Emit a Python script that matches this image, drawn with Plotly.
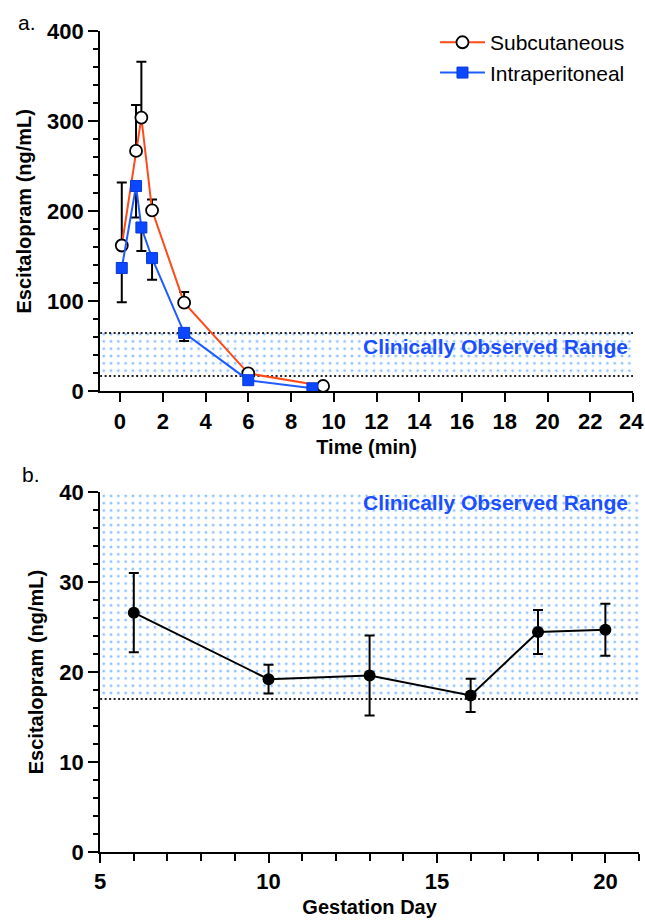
import plotly.graph_objects as go

# ---------- data ----------
time_sc = [0.083, 0.75, 1, 1.5, 3, 6, 9.5]
sc_mean = [162, 267, 304, 201, 98.5, 20, 6]
sc_err_up = [70, 51, 62, 12, 12, 0, 0]

time_ip = [0.083, 0.75, 1, 1.5, 3, 6, 9]
ip_mean = [137, 228, 182, 148, 65, 12.5, 3.5]
ip_err_down = [38, 35, 26, 24, 9, 0, 0]

gest_day = [6, 10, 13, 16, 18, 20]
gest_conc = [26.6, 19.2, 19.6, 17.4, 24.45, 24.7]
gest_err = [4.4, 1.6, 4.45, 1.85, 2.45, 2.9]

clin_low, clin_high = 17, 65
xa_range = [-0.93, 24]
xa_ticks = list(range(0, 25, 2))
xb_range = [5, 21]

FONT = "Liberation Sans, Arial, sans-serif"
DOT_BLUE = "#1f86ff"
TXT_BLUE = "#1a4fff"

W, H = 645, 920

def px(xp):
    return xp / W

def py(yp):
    # vertical calibration of the photographed page
    return 1 - ((yp - 12.9) / 0.972) / H

fig = go.Figure()

def band(xr, xaxis, yaxis):
    fig.add_trace(go.Scatter(
        x=[xr[0], xr[1], xr[1], xr[0], xr[0]],
        y=[clin_low, clin_low, clin_high, clin_high, clin_low],
        fill="toself", mode="none", fillcolor="rgba(0,0,0,0)",
        fillpattern=dict(shape=".", size=7.3, solidity=0.12,
                         fgcolor=DOT_BLUE, bgcolor="rgba(0,0,0,0)", fillmode="overlay"),
        hoverinfo="skip", showlegend=False, xaxis=xaxis, yaxis=yaxis))
    for yv in (clin_low, clin_high):
        fig.add_trace(go.Scatter(
            x=xr, y=[yv, yv], mode="lines",
            line=dict(color="#222", width=2, dash="2px,2.5px"),
            hoverinfo="skip", showlegend=False, xaxis=xaxis, yaxis=yaxis))

band(xa_range, "x", "y")
band(xb_range, "x2", "y2")

# panel a series
fig.add_trace(go.Scatter(
    x=time_sc, y=sc_mean, name="Subcutaneous", mode="lines+markers",
    line=dict(color="#ff4a1a", width=2),
    marker=dict(symbol="circle", size=12, color="white", line=dict(color="black", width=1.8)),
    error_y=dict(type="data", symmetric=False, array=sc_err_up, arrayminus=[0]*len(sc_err_up),
                 color="black", thickness=2, width=5),
    xaxis="x", yaxis="y"))
fig.add_trace(go.Scatter(
    x=time_ip, y=ip_mean, name="Intraperitoneal", mode="lines+markers",
    line=dict(color="#1f5cff", width=2),
    marker=dict(symbol="square", size=11, color="#0a47ff", line=dict(color="#0a3ad6", width=1)),
    error_y=dict(type="data", symmetric=False, array=[0]*len(ip_err_down), arrayminus=ip_err_down,
                 color="black", thickness=2, width=5),
    xaxis="x", yaxis="y"))

# panel b
fig.add_trace(go.Scatter(
    x=gest_day, y=gest_conc, mode="lines+markers", showlegend=False,
    line=dict(color="black", width=2),
    marker=dict(symbol="circle", size=12, color="black"),
    error_y=dict(type="data", array=gest_err, color="black", thickness=2, width=5),
    xaxis="x2", yaxis="y2"))

tickfont = dict(family=FONT, size=22, color="black", weight="bold")
axis_common = dict(showline=True, linecolor="black", linewidth=2, ticks="outside",
                   tickcolor="black", tickwidth=2, showgrid=False, zeroline=False,
                   tickfont=tickfont)
title_font = dict(family=FONT, size=20, color="black", weight="bold")

fig.update_layout(
    width=W, height=H, margin=dict(l=0, r=0, t=0, b=0),
    paper_bgcolor="white", plot_bgcolor="white",
    font=dict(family=FONT, color="black"),
    xaxis=dict(domain=[px(95), px(633)], range=xa_range, tickvals=xa_ticks,
               ticktext=[str(t) for t in xa_ticks[:-1]] + [""],
               ticklen=9, anchor="y",
               title=dict(text="Time (min)", font=title_font, standoff=7), **axis_common),
    yaxis=dict(domain=[py(392), py(32)], range=[0, 400], tickvals=[0, 100, 200, 300, 400],
               ticklen=10, anchor="x",
               minor=dict(dtick=20, ticks="outside", ticklen=5, tickcolor="black", tickwidth=2),
               title=dict(text="Escitalopram (ng/mL)", font=title_font, standoff=10), **axis_common),
    xaxis2=dict(domain=[px(95), px(639)], range=xb_range, tickvals=[5, 10, 15, 20],
                ticklen=9, anchor="y2",
                minor=dict(dtick=1, tick0=5, ticks="outside", ticklen=7, tickcolor="black", tickwidth=2),
                title=dict(text="Gestation Day", font=title_font, standoff=7), **axis_common),
    yaxis2=dict(domain=[py(852), py(492.7)], range=[0, 40], tickvals=[0, 10, 20, 30, 40],
                ticklen=10, anchor="x2",
                minor=dict(dtick=2, ticks="outside", ticklen=5, tickcolor="black", tickwidth=2),
                title=dict(text="Escitalopram (ng/mL)", font=title_font, standoff=10), **axis_common),
    legend=dict(x=px(433), y=py(23), xanchor="left", yanchor="top", bgcolor="rgba(0,0,0,0)",
                font=dict(family=FONT, size=21, color="black"), itemwidth=45,
                tracegroupgap=0),
    annotations=[
        dict(text="Clinically Observed Range", xref="x domain", yref="y", x=1, y=50,
             xanchor="right", yanchor="middle", xshift=-3, showarrow=False,
             font=dict(family=FONT, size=21, color=TXT_BLUE, weight="bold")),
        dict(text="Clinically Observed Range", xref="x2 domain", yref="y2", x=1, y=38.8,
             xanchor="right", yanchor="middle", xshift=-9, showarrow=False,
             font=dict(family=FONT, size=21, color=TXT_BLUE, weight="bold")),
        # last x tick label of panel a, kept inside the page edge
        dict(text=str(xa_ticks[-1]), xref="paper", yref="y", x=1, y=0, yshift=-30,
             xanchor="right", yanchor="middle", showarrow=False, borderpad=0,
             font=tickfont),
        dict(text="a.", xref="paper", yref="paper", x=px(10), y=1, yshift=3, xanchor="left",
             yanchor="top", showarrow=False, font=dict(family=FONT, size=21, color="black")),
        dict(text="b.", xref="paper", yref="paper", x=px(14), y=py(475), xanchor="left",
             yanchor="middle", showarrow=False, font=dict(family=FONT, size=21, color="black")),
    ],
)

fig.write_html("out.html", config={"displayModeBar": False},
               post_script="document.body.style.margin='0';document.body.style.overflow='hidden';")
